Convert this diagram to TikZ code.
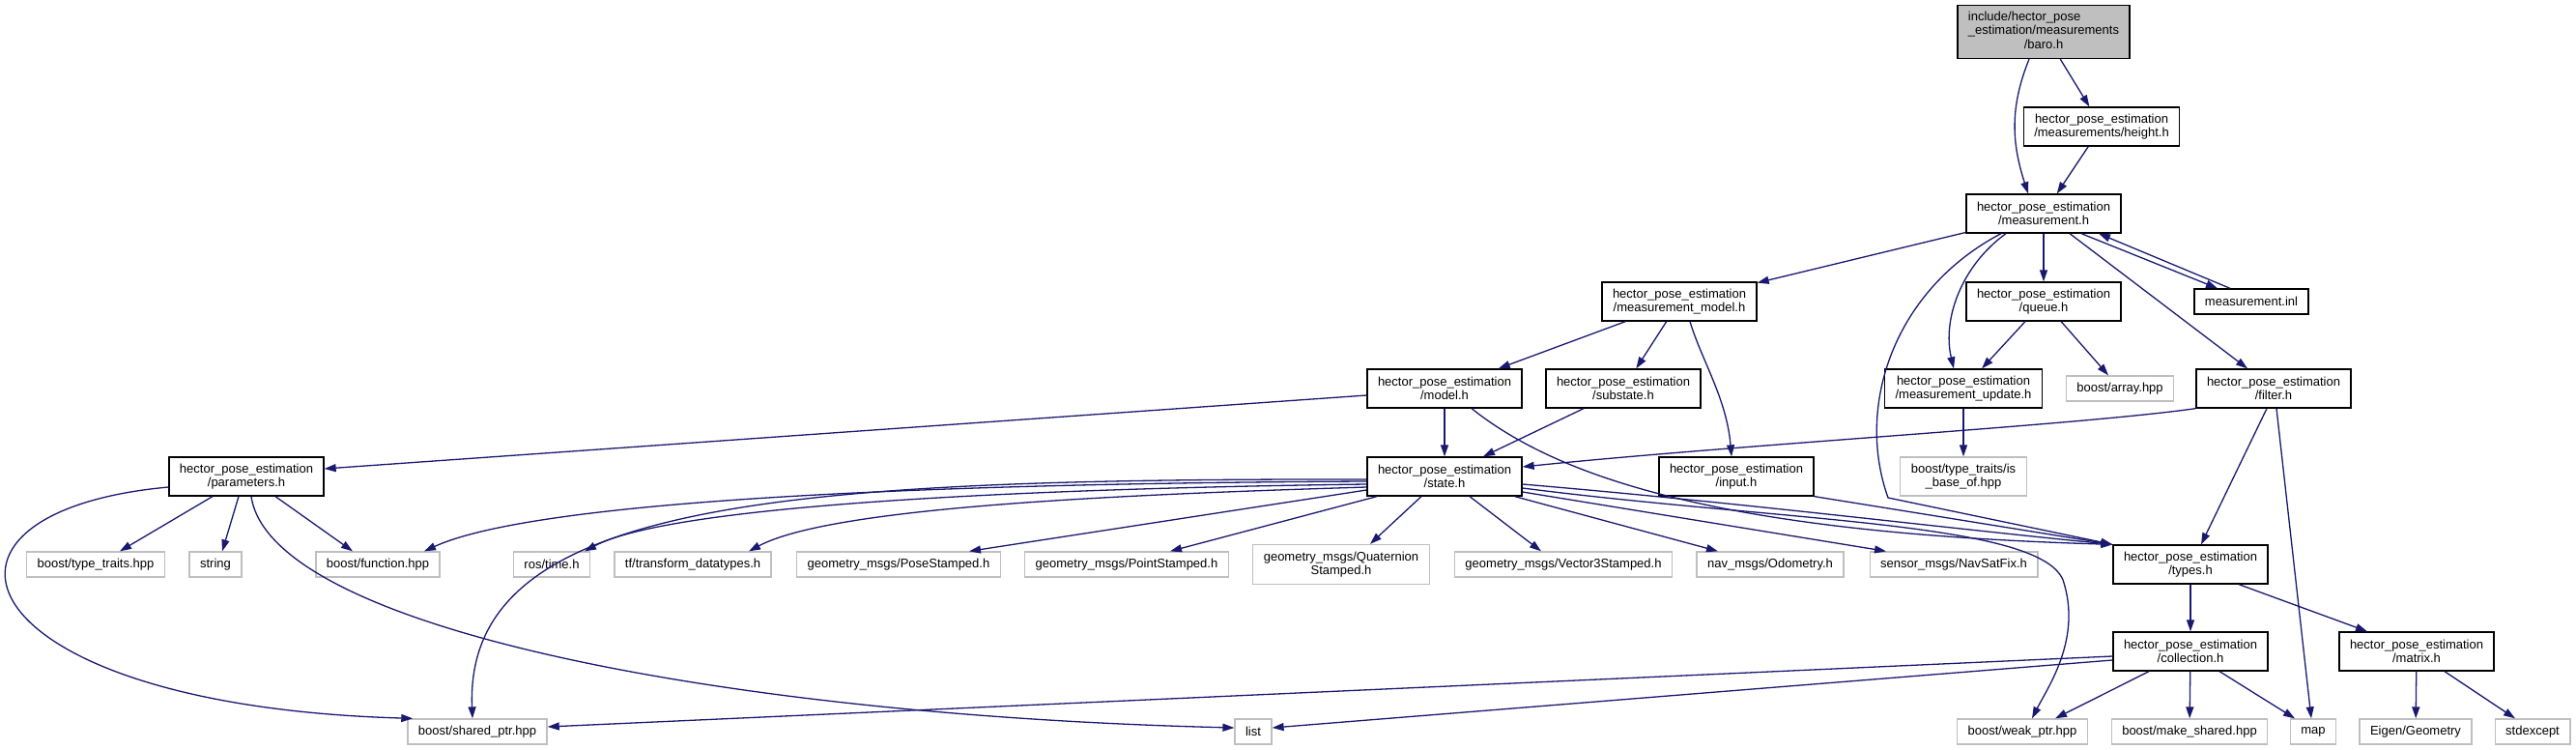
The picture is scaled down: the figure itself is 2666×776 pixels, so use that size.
\documentclass[tikz,border=0pt]{standalone}
\usepackage{fontspec}
\setmainfont{Liberation Sans}
\usepackage{tikz}
\usetikzlibrary{arrows.meta}
\usepackage{xcolor}
\definecolor{incblue}{RGB}{25, 25, 112}
\definecolor{extgray}{RGB}{191, 191, 191}

\begin{document}
\begin{tikzpicture}[x=1pt, y=-1pt,
    font=\fontsize{13}{14.3}\selectfont,
    hnode/.style={draw=black, line width=1.3pt, fill=white, inner xsep=11pt, inner ysep=2pt, minimum height=40pt, align=center},
    xnode/.style={draw=extgray, line width=1.3pt, fill=white, inner xsep=11pt, inner ysep=2pt, minimum height=26pt, align=center},
    root/.style={hnode, fill=extgray, minimum height=55pt},
    incl/.style={incblue, line width=1.3pt, -{Triangle[length=12pt, width=8pt]}}]
  \useasboundingbox (0,0) rectangle (2666,776);

  \node[root] (baro) at (2115,33) {\begin{tabular}{@{}l@{}}include/hector\_pose\\\_estimation/measurements\\\multicolumn{1}{@{}c@{}}{/baro.h}\end{tabular}};
  \node[hnode] (height) at (2175,131) {hector\_pose\_estimation\\/measurements/height.h};
  \node[hnode] (meas) at (2115,221) {hector\_pose\_estimation\\/measurement.h};
  \node[hnode] (mmodel) at (1738,312) {hector\_pose\_estimation\\/measurement\_model.h};
  \node[hnode] (queue) at (2115,312) {hector\_pose\_estimation\\/queue.h};
  \node[hnode, minimum height=26pt] (inl) at (2330,312) {measurement.inl};
  \node[hnode] (model) at (1495,402) {hector\_pose\_estimation\\/model.h};
  \node[hnode] (substate) at (1680,402) {hector\_pose\_estimation\\/substate.h};
  \node[hnode] (mupdate) at (2032,402) {hector\_pose\_estimation\\/measurement\_update.h};
  \node[xnode] (array) at (2194,402) {boost/array.hpp};
  \node[hnode] (filter) at (2353,402) {hector\_pose\_estimation\\/filter.h};
  \node[hnode] (params) at (255,493) {hector\_pose\_estimation\\/parameters.h};
  \node[hnode] (state) at (1495,493) {hector\_pose\_estimation\\/state.h};
  \node[hnode] (input) at (1797,493) {hector\_pose\_estimation\\/input.h};
  \node[xnode, minimum height=40pt] (isbase) at (2032,493) {boost/type\_traits/is\\\_base\_of.hpp};
  \node[hnode] (types) at (2267,584) {hector\_pose\_estimation\\/types.h};

  \node[xnode] (typetraits) at (99,584) {boost/type\_traits.hpp};
  \node[xnode] (string) at (223,584) {string};
  \node[xnode] (function) at (391,584) {boost/function.hpp};
  \node[xnode] (rostime) at (571,584) {ros/time.h};
  \node[xnode] (tf) at (717,584) {tf/transform\_datatypes.h};
  \node[xnode] (pose) at (930,584) {geometry\_msgs/PoseStamped.h};
  \node[xnode] (point) at (1166,584) {geometry\_msgs/PointStamped.h};
  \node[xnode, minimum height=41pt] (quat) at (1388,584) {geometry\_msgs/Quaternion\\Stamped.h};
  \node[xnode] (vec3) at (1618,584) {geometry\_msgs/Vector3Stamped.h};
  \node[xnode] (odom) at (1832,584) {nav\_msgs/Odometry.h};
  \node[xnode] (navsat) at (2022,584) {sensor\_msgs/NavSatFix.h};

  \node[hnode] (collection) at (2267,674) {hector\_pose\_estimation\\/collection.h};
  \node[hnode] (matrix) at (2501,674) {hector\_pose\_estimation\\/matrix.h};

  \node[xnode] (sharedptr) at (494,757) {boost/shared\_ptr.hpp};
  \node[xnode] (list) at (1297,757) {list};
  \node[xnode] (weakptr) at (2093,757) {boost/weak\_ptr.hpp};
  \node[xnode] (makeshared) at (2266,757) {boost/make\_shared.hpp};
  \node[xnode] (map) at (2394,757) {map};
  \node[xnode] (eigen) at (2500,757) {Eigen/Geometry};
  \node[xnode] (stdexcept) at (2621,757) {stdexcept};

  \draw[incl] (baro) -- (height);
  \draw[incl] ([xshift=-15pt]baro.south) to[out=-112, in=108] ([xshift=-16pt]meas.north);
  \draw[incl] (height) -- (meas);

  \draw[incl] (meas) -- (mmodel);
  \draw[incl] (meas) -- (queue);
  \draw[incl] ([xshift=39pt]meas.south) -- ([xshift=-35pt]inl.north);
  \draw[incl] ([xshift=-22pt]inl.north) -- ([xshift=57pt]meas.south);
  \draw[incl] ([xshift=27pt]meas.south) -- ([xshift=-27pt]filter.north);
  \draw[incl] ([xshift=-39pt]meas.south) .. controls (2030,275) and (2010,330) .. ([xshift=-10pt]mupdate.north);
  \draw[incl] ([xshift=-44pt]meas.south) .. controls (1960,300) and (1920,420) .. (1954,515) -- (types.north west);

  \draw[incl] (mmodel) -- (model);
  \draw[incl] (mmodel) -- (substate);
  \draw[incl] ([xshift=11pt]mmodel.south) .. controls +(12,40) and +(-5,-60) .. ([xshift=-5pt]input.north);
  \draw[incl] (queue) -- (mupdate);
  \draw[incl] (queue) -- (array);
  \draw[incl] (mupdate) -- (isbase);

  \draw[incl] (filter.south west) .. controls (2150,440) and (1800,460) .. ([yshift=10pt]state.east);
  \draw[incl] ([xshift=-7pt]filter.south) -- ([xshift=11pt]types.north);
  \draw[incl] ([xshift=3pt]filter.south) -- ([xshift=-2pt]map.north);

  \draw[incl] ([yshift=-7pt]model.west) -- ([yshift=8pt]params.east);
  \draw[incl] (model) -- (state);
  \draw[incl] ([xshift=28pt]model.south) .. controls (1620,500) and (1800,552) .. (types.north west);
  \draw[incl] ([xshift=-41pt]substate.south) -- ([xshift=40pt]state.north);
  \draw[incl] (input.south east) -- (types.north west);

  \draw[incl] ([xshift=-35pt]params.south) -- ([xshift=25pt]typetraits.north);
  \draw[incl] ([xshift=-8pt]params.south) -- ([xshift=7pt]string.north);
  \draw[incl] ([xshift=30pt]params.south) -- ([xshift=-26pt]function.north);
  \draw[incl] ([xshift=5pt]params.south) .. controls (280,650) and (750,740) .. ([yshift=4pt]list.west);
  \draw[incl] ([yshift=-11pt]params.west) .. controls (-110,530) and (-40,730) .. ([xshift=6pt]sharedptr.north west);

  \draw[incl] ([yshift=-3pt]state.west) .. controls (800,495) and (480,520) .. ([xshift=-5pt]sharedptr.north);
  \draw[incl] ([yshift=-5pt]state.west) .. controls (1000,500) and (560,515) .. ([xshift=48pt]function.north);
  \draw[incl] ([yshift=-8pt]state.west) .. controls (1100,505) and (700,520) .. ([xshift=34pt]rostime.north);
  \draw[incl] ([yshift=-11pt]state.west) .. controls (1150,512) and (860,525) .. ([xshift=58pt]tf.north);
  \draw[incl] ([yshift=-14pt]state.west) -- ([xshift=73pt]pose.north);
  \draw[incl] ([xshift=-70pt]state.south) -- ([xshift=45pt]point.north);
  \draw[incl] ([xshift=-24pt]state.south) -- ([xshift=30pt]quat.north);
  \draw[incl] ([xshift=26pt]state.south) -- ([xshift=-23pt]vec3.north);
  \draw[incl] ([xshift=-8pt]state.south east) -- ([xshift=-54pt]odom.north);
  \draw[incl] ([yshift=-16pt]state.east) -- ([xshift=-70pt]navsat.north);
  \draw[incl] ([yshift=-8pt]state.east) .. controls (1800,520) and (2000,545) .. (types.north west);
  \draw[incl] ([yshift=-12pt]state.east) .. controls (1850,540) and (2110,540) .. (2135,600) .. controls (2155,660) and (2120,710) .. ([xshift=10pt]weakptr.north);

  \draw[incl] (types) -- (collection);
  \draw[incl] ([xshift=50pt]types.south) -- ([xshift=-51pt]matrix.north);

  \draw[incl] ([yshift=-5pt]collection.west) -- ([yshift=5pt]sharedptr.east);
  \draw[incl] ([yshift=-9pt]collection.west) -- ([yshift=4pt]list.east);
  \draw[incl] ([xshift=-43pt]collection.south) -- ([xshift=34pt]weakptr.north);
  \draw[incl] (collection) -- (makeshared);
  \draw[incl] ([xshift=30pt]collection.south) -- ([xshift=-19pt]map.north);

  \draw[incl] (matrix) -- (eigen);
  \draw[incl] ([xshift=29pt]matrix.south) -- ([xshift=-18pt]stdexcept.north);
\end{tikzpicture}
\end{document}
